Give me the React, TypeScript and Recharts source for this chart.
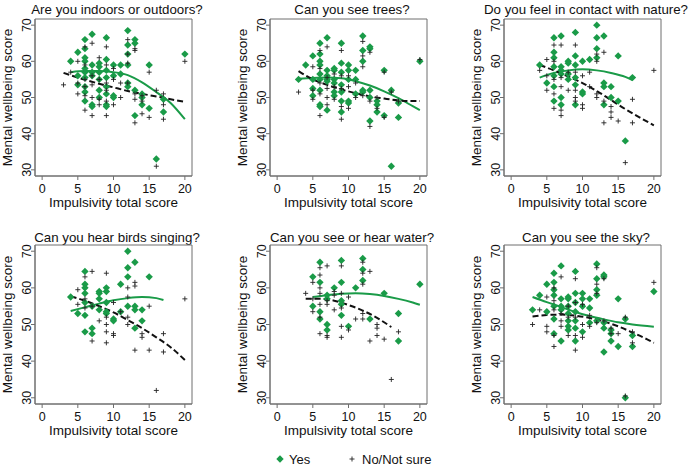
import React from "react";
import { ComposedChart, Scatter, Line, XAxis, YAxis, ReferenceArea } from "recharts";

const GREEN = "#1a9b48";
const FRAME = "#6e6e6e";
const FONT = '"Liberation Sans", Arial, sans-serif';

const xTicks = [0, 5, 10, 15, 20];
const yTicks = [30, 40, 50, 60, 70];

// [impulsivity, wellbeing]
const indoorsYes = [[4,60],[5,62.5],[5,56],[5,53.5],[6,66],[6,63.5],[6,61],[6,60],[6,58],[6,57],[6,55.5],[6,53],[6,51.5],[6,49],[7,67.5],[7,59],[7,57],[7,56],[7,48],[7,47.5],[8,59.5],[8,58.5],[8,57],[8,55],[8,52],[8,50],[9,66.5],[9,60.5],[9,57.5],[9,55.5],[9,53],[9,51],[9,48],[9,47.5],[10,59],[10,56],[10,50.5],[10,50],[11,59],[11,56.5],[12,68.5],[12,64.5],[12,62],[12,59],[12,54],[12,53],[13,66],[13,65],[13,52],[13,45],[14,51],[14,50],[14,48],[15,59],[15,47],[16,33],[17,49.5],[17,46],[20,62]];
const indoorsNo = [[3,53.5],[4,57],[5,60],[5,54],[5,51],[6,64],[6,59],[6,55],[6,53],[6,50.5],[6,46.5],[7,65],[7,56],[7,53.5],[7,50],[7,45],[8,61],[8,55],[8,49.5],[8,48],[9,64],[9,59],[9,54],[9,52],[9,49],[9,45],[10,58],[10,55],[10,48],[11,54],[11,50],[12,66],[12,62],[12,59.5],[12,54],[13,63.5],[13,63],[13,51],[13,49.5],[13,43],[14,50.5],[14,49],[14,45.5],[15,57],[15,44.5],[16,52],[16,31],[17,51],[17,48],[17,44],[20,60]];
const indoorsYesFit = [[4,57],[6,57.3],[8,57.3],[10,57],[12,56.2],[14,54.2],[16,51.5],[18,48.5],[20,44]];
const indoorsNoFit = [[3,56.8],[5,55.5],[8,53.8],[10,52.8],[12,51.8],[14,51],[16,50.3],[18,49.5],[20,48.8]];

const treesYes = [[3,55],[4,59],[5,61.5],[5,55],[5,52.5],[5,50.5],[6,65],[6,62],[6,60],[6,59],[6,56.5],[6,55],[6,52],[6,48],[6,47.5],[7,66.5],[7,57.5],[7,56],[7,55],[7,54.5],[7,46.5],[8,58],[8,57.5],[8,55],[8,54],[8,51.5],[8,50.5],[9,65],[9,59.5],[9,57],[9,53.5],[9,51.5],[9,49],[9,46],[10,59],[10,57.5],[10,55],[10,49],[10,48.5],[11,57.5],[11,55],[11,51],[12,67],[12,63],[12,60],[12,52],[12,51.5],[13,64],[13,63.5],[13,52],[13,50],[13,43.5],[14,49],[14,48],[14,46],[15,57.5],[15,45],[16,52],[16,31],[17,48.5],[17,44.5],[20,60]];
const treesNo = [[3,51.5],[5,58.5],[5,52],[5,49.5],[6,63],[6,58],[6,54],[6,51],[6,45],[7,64],[7,55.5],[7,52.5],[7,50],[7,48],[8,56.5],[8,53],[8,49.5],[9,63],[9,56],[9,52.5],[9,47.5],[9,44],[10,56],[10,53],[10,47],[11,54],[11,50],[12,65.5],[12,61.5],[12,58.5],[12,50.5],[13,62.5],[13,49],[13,42],[14,50],[14,47],[15,57],[15,44.5],[16,51.5],[17,49],[20,60.5]];
const treesYesFit = [[3,55.2],[5,55.4],[7,55.5],[9,55.3],[11,54.5],[13,53.3],[15,51.7],[17,49.8],[19,47.6],[20,46.5]];
const treesNoFit = [[3,57.3],[5,55],[7,53.5],[9,52.2],[11,51.2],[13,50.3],[15,49.7],[17,49.2],[19,49],[20,49]];

const natureYes = [[4,59],[5,54],[6,66.5],[6,62.5],[6,61],[6,58.5],[6,56],[6,53],[6,49],[7,67],[7,58.5],[7,57.5],[7,56.5],[7,50],[7,48],[8,60],[8,59.5],[8,56.5],[8,55],[9,68],[9,61.5],[9,59],[9,55.5],[9,53.5],[9,48],[10,60],[10,51.5],[10,51],[11,60.5],[12,70],[12,66.5],[12,63.5],[12,61],[13,67],[13,54],[13,53],[13,48],[14,53],[14,50],[15,61.5],[15,49],[16,38],[17,55.5]];
const natureNo = [[4,57.5],[5,60.5],[5,56],[5,52],[6,64.5],[6,60],[6,55],[6,51],[6,47],[7,64.5],[7,55.5],[7,53],[7,46.5],[7,45],[8,57],[8,52],[9,64.5],[9,57],[9,52],[9,50],[9,49],[10,56],[10,48],[10,47],[11,57],[11,53],[12,62],[12,60],[12,51],[12,50],[13,62.5],[13,49],[13,43],[14,47.5],[14,46],[14,44.5],[15,43.5],[16,32],[17,49.5],[17,43],[20,57.5]];
const natureYesFit = [[4,55.5],[6,56.8],[8,57.5],[10,57.8],[12,57.5],[14,56.8],[16,55.7],[17,54.8]];
const natureNoFit = [[4,59],[6,57.5],[8,55.8],[10,54],[12,51.8],[14,49.3],[16,46.8],[18,44.5],[20,42.3]];

const birdsYes = [[4,57.5],[5,53],[6,64.5],[6,61],[6,60],[6,58.5],[6,56],[6,52.5],[6,48],[7,55],[7,49],[7,47.5],[8,59],[8,58.5],[8,57],[8,54],[9,60],[9,59],[9,56],[9,53.5],[9,53],[10,51.5],[10,51],[11,61],[11,53.5],[12,70],[12,65.5],[12,63],[12,55],[13,67],[13,55],[13,54],[13,49],[14,54],[14,51],[15,63]];
const birdsNo = [[5,59.5],[5,55.5],[6,63],[6,57],[6,54.5],[7,64.5],[7,55],[7,45.5],[8,51],[9,64],[9,52],[9,50],[9,48],[9,45],[10,56],[10,47.5],[10,47],[11,53.5],[12,60],[12,57.5],[12,52],[12,50],[13,61.5],[13,60.5],[13,43],[14,47.5],[14,46.5],[15,55],[15,43],[16,32],[17,47.5],[17,42.5],[20,57]];
const birdsYesFit = [[4,53.7],[6,54.7],[8,55.7],[10,56.6],[12,57.2],[14,57.5],[16,57.2],[17,56.7]];
const birdsNoFit = [[4,57.7],[6,56.5],[8,55],[10,53.3],[12,51.2],[14,49],[16,46.5],[18,43.8],[20,40.3]];

const waterYes = [[5,63],[5,55],[6,67],[6,61.5],[6,53.5],[6,51.5],[7,58],[7,57],[7,50],[7,48.5],[8,60],[9,67.5],[9,61.5],[9,56.5],[9,55.5],[9,52.5],[10,49.5],[11,60],[12,68],[12,65],[12,62],[13,51.5],[15,58.5],[17,53],[17,45.5],[20,61]];
const waterNo = [[4,58.5],[5,61.5],[5,57],[5,53.5],[6,65.5],[6,63.5],[6,60],[6,58.5],[6,55.5],[6,52],[6,47.5],[7,66],[7,56.5],[7,55.5],[7,47],[7,46.5],[8,59],[8,58],[8,54],[9,66],[9,58.5],[9,54.5],[9,49.5],[9,46.5],[10,57.5],[10,48.5],[11,51.5],[12,67],[12,64],[12,61],[12,53],[12,51.5],[13,64.5],[13,45.5],[14,50],[14,49],[14,47],[15,46],[16,35],[17,48]];
const waterYesFit = [[5,57.5],[7,58],[9,58.4],[11,58.5],[13,58.3],[15,57.8],[17,57],[19,56],[20,55.4]];
const waterNoFit = [[4,57],[6,57],[8,56.5],[10,55.3],[12,53.8],[14,51.8],[16,49.3]];

const skyYes = [[3,54],[4,58],[5,61],[5,53.5],[6,64],[6,61.5],[6,59.5],[6,58],[6,55],[6,51.5],[6,47.5],[7,66],[7,57],[7,55],[7,54],[7,45.5],[8,57.5],[8,57],[8,55],[8,53],[8,51],[8,49.5],[8,48.5],[9,64.5],[9,58.5],[9,56],[9,53.5],[9,51],[9,49],[9,45.5],[10,58.5],[10,57],[10,55],[10,48],[11,57],[11,54.5],[11,50.5],[12,66.5],[12,62.5],[12,59.5],[12,58],[12,51],[13,63.5],[13,63],[13,50.5],[13,49],[13,42.5],[14,48.5],[14,47.5],[14,45.5],[15,57],[15,44],[16,51.5],[16,30],[17,47],[17,44],[20,59]];
const skyNo = [[3,50],[4,54],[5,57.5],[5,49.5],[5,48],[6,60],[6,56.5],[6,54],[6,47],[6,44],[7,63],[7,53],[7,51],[7,49.5],[8,55],[8,52],[8,47],[9,62.5],[9,56],[9,52],[9,47],[9,43],[10,55.5],[10,50],[10,46.5],[11,52.5],[11,49.5],[12,65.5],[12,61],[12,58.5],[12,50.5],[13,62.5],[13,51],[14,49],[14,47.5],[15,47.5],[16,52],[16,30.5],[17,48],[17,45],[20,61.5]];
const skyYesFit = [[3,57.5],[5,56.1],[7,54.8],[9,53.4],[11,52.3],[13,51.4],[15,50.6],[17,50],[20,49.4]];
const skyNoFit = [[3,52.2],[5,52.6],[7,52.7],[9,52.4],[11,51.8],[13,50.8],[15,49.5],[17,47.8],[19,46],[20,45]];

const toPts = (arr: number[][]) => arr.map(([x, y]) => ({ x, y }));

const panels = [
  { title: "Are you indoors or outdoors?", left: 0, top: 0, plotH: 157, yes: indoorsYes, no: indoorsNo, yesFit: indoorsYesFit, noFit: indoorsNoFit },
  { title: "Can you see trees?", left: 235, top: 0, plotH: 157, yes: treesYes, no: treesNo, yesFit: treesYesFit, noFit: treesNoFit },
  { title: "Do you feel in contact with nature?", left: 469, top: 0, plotH: 157, yes: natureYes, no: natureNo, yesFit: natureYesFit, noFit: natureNoFit },
  { title: "Can you hear birds singing?", left: 0, top: 226, plotH: 159, yes: birdsYes, no: birdsNo, yesFit: birdsYesFit, noFit: birdsNoFit },
  { title: "Can you see or hear water?", left: 235, top: 226, plotH: 159, yes: waterYes, no: waterNo, yesFit: waterYesFit, noFit: waterNoFit },
  { title: "Can you see the sky?", left: 469, top: 226, plotH: 159, yes: skyYes, no: skyNo, yesFit: skyYesFit, noFit: skyNoFit },
];

const Diamond = (props: any) => {
  const { cx, cy } = props;
  const r = 3.7;
  return <polygon points={`${cx},${cy - r} ${cx + r},${cy} ${cx},${cy + r} ${cx - r},${cy}`} fill={GREEN} />;
};

const Plus = (props: any) => {
  const { cx, cy } = props;
  return <path d={`M${cx - 2.5},${cy}H${cx + 2.5}M${cx},${cy - 2.5}V${cy + 2.5}`} stroke="#222" strokeWidth={0.9} fill="none" />;
};

const YTick = ({ x, y, payload }: any) => (
  <text x={x} y={y} transform={`rotate(-90 ${x} ${y})`} textAnchor="middle" dy="0.35em" fontSize={12.5} fill="#111" fontFamily={FONT}>
    {payload.value}
  </text>
);

function Panel({ p }: { p: any }) {
  const height = 19 + p.plotH + 39;
  return (
    <div style={{ position: "absolute", left: p.left, top: p.top, width: 230, height }}>
      <svg width={274} height={22} style={{ position: "absolute", left: -20, top: 0, overflow: "visible" }}>
        <text x={137} y={p.top === 0 ? 13.7 : 16.2} textAnchor="middle" fontSize={13.3} fill="#111" fontFamily={FONT}>
          {p.title}
        </text>
      </svg>
      <ComposedChart width={230} height={height} margin={{ top: 19, right: 38, left: 0, bottom: 0 }}>
        <XAxis
          dataKey="x"
          type="number"
          domain={[-1, 21]}
          allowDataOverflow
          ticks={xTicks}
          interval={0}
          tickSize={4}
          tickMargin={4}
          height={39}
          stroke={FRAME}
          tick={{ fontSize: 12.5, fill: "#111", fontFamily: FONT }}
          label={{ value: "Impulsivity total score", position: "insideBottom", offset: 8.5, fontSize: 13.5, fill: "#111", fontFamily: FONT }}
        />
        <YAxis
          dataKey="y"
          type="number"
          domain={[28.3, 71.7]}
          allowDataOverflow
          ticks={yTicks}
          interval={0}
          tickSize={4}
          tickMargin={4}
          width={35}
          stroke={FRAME}
          tick={<YTick />}
          label={{ value: "Mental wellbeing score", angle: -90, position: "insideLeft", offset: 7, fontSize: 13.5, fill: "#111", fontFamily: FONT, style: { textAnchor: "middle" } }}
        />
        <ReferenceArea x1={-1} x2={21} y1={28.3} y2={71.7} fill="none" stroke={FRAME} strokeWidth={1} />
        <Scatter data={toPts(p.yes)} dataKey="y" shape={Diamond} isAnimationActive={false} />
        <Scatter data={toPts(p.no)} dataKey="y" shape={Plus} isAnimationActive={false} />
        <Line data={toPts(p.yesFit)} dataKey="y" type="monotone" stroke={GREEN} strokeWidth={2} dot={false} activeDot={false} isAnimationActive={false} />
        <Line data={toPts(p.noFit)} dataKey="y" type="monotone" stroke="#111" strokeWidth={2} strokeDasharray="6 3" dot={false} activeDot={false} isAnimationActive={false} />
      </ComposedChart>
    </div>
  );
}

export default function App() {
  return (
    <div style={{ position: "absolute", left: 0, top: 0, width: 691, height: 466, background: "#fff", overflow: "hidden", fontFamily: FONT }}>
      {panels.map((p) => (
        <Panel key={p.title} p={p} />
      ))}
      <svg width={691} height={20} style={{ position: "absolute", left: 0, top: 449 }}>
        <polygon points="280,6.3 283.7,10 280,13.7 276.3,10" fill={GREEN} />
        <text x={289} y={10} dy="0.35em" fontSize={13} fill="#111" fontFamily={FONT}>Yes</text>
        <path d="M349.5,10H354.5M352,7.5V12.5" stroke="#222" strokeWidth={0.9} />
        <text x={362} y={10} dy="0.35em" fontSize={13} fill="#111" fontFamily={FONT}>No/Not sure</text>
      </svg>
    </div>
  );
}
